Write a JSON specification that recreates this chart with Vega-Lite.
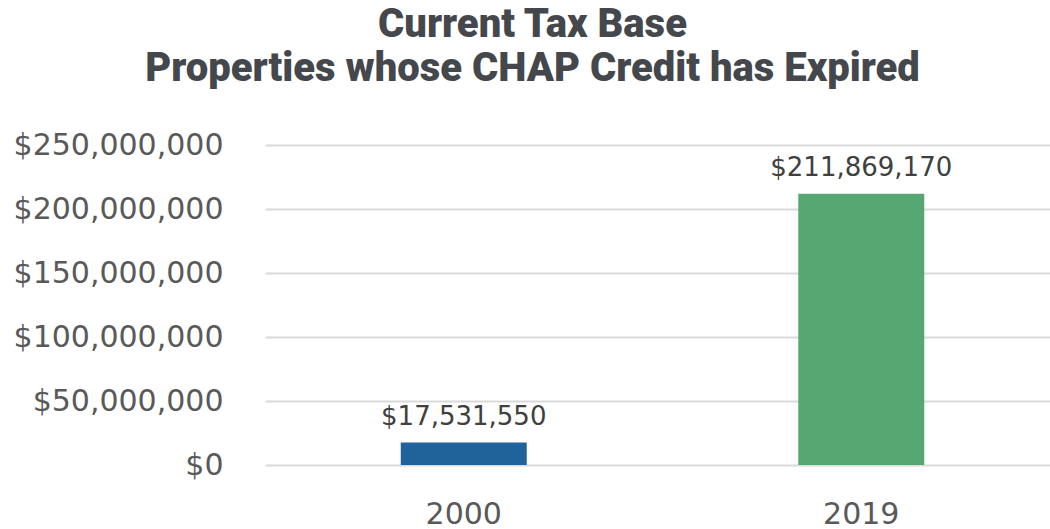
{
  "$schema": "https://vega.github.io/schema/vega-lite/v6.json",
  "autosize": "none",
  "padding": {"left": 265, "top": 145, "right": 0, "bottom": 64},
  "width": 785,
  "height": 320,
  "background": "white",
  "title": {
    "text": ["Current Tax Base", "Properties whose CHAP Credit has Expired"],
    "font": "Roboto",
    "fontWeight": 900,
    "fontSize": 40,
    "color": "#44474b",
    "anchor": "middle",
    "dx": -125,
    "offset": 41,
    "lineHeight": 44
  },
  "data": {
    "values": [
      {"year": "2000", "value": 17531550},
      {"year": "2019", "value": 211869170}
    ]
  },
  "config": {
    "view": {"stroke": null},
    "font": "DejaVu Sans"
  },
  "encoding": {
    "x": {
      "field": "year",
      "type": "nominal",
      "sort": null,
      "scale": {"paddingInner": 0, "paddingOuter": 0, "range": [0, 795]},
      "axis": {
        "title": null,
        "domain": false,
        "ticks": false,
        "labelAngle": 0,
        "labelFontSize": 30,
        "labelColor": "#595959",
        "labelBaseline": "alphabetic",
        "labelPadding": 58,
        "labelFont": "DejaVu Sans"
      }
    },
    "y": {
      "field": "value",
      "type": "quantitative",
      "scale": {"domain": [0, 250000000], "nice": false},
      "axis": {
        "title": null,
        "domain": false,
        "ticks": false,
        "values": [0, 50000000, 100000000, 150000000, 200000000, 250000000],
        "format": "$,.0f",
        "labelFontSize": 30,
        "labelLimit": 400,
        "labelColor": "#595959",
        "labelPadding": 42,
        "gridColor": "#d9d9d9",
        "gridWidth": 2,
        "labelFont": "DejaVu Sans"
      }
    }
  },
  "layer": [
    {
      "mark": {"type": "bar", "width": 126},
      "encoding": {
        "color": {
          "field": "year",
          "type": "nominal",
          "scale": {"domain": ["2000", "2019"], "range": ["#20639b", "#57a773"]},
          "legend": null
        }
      }
    },
    {
      "mark": {"type": "text", "dy": -18, "baseline": "alphabetic", "fontSize": 26, "color": "#404040", "font": "DejaVu Sans"},
      "encoding": {
        "text": {"field": "value", "type": "quantitative", "format": "$,.0f"}
      }
    }
  ]
}
